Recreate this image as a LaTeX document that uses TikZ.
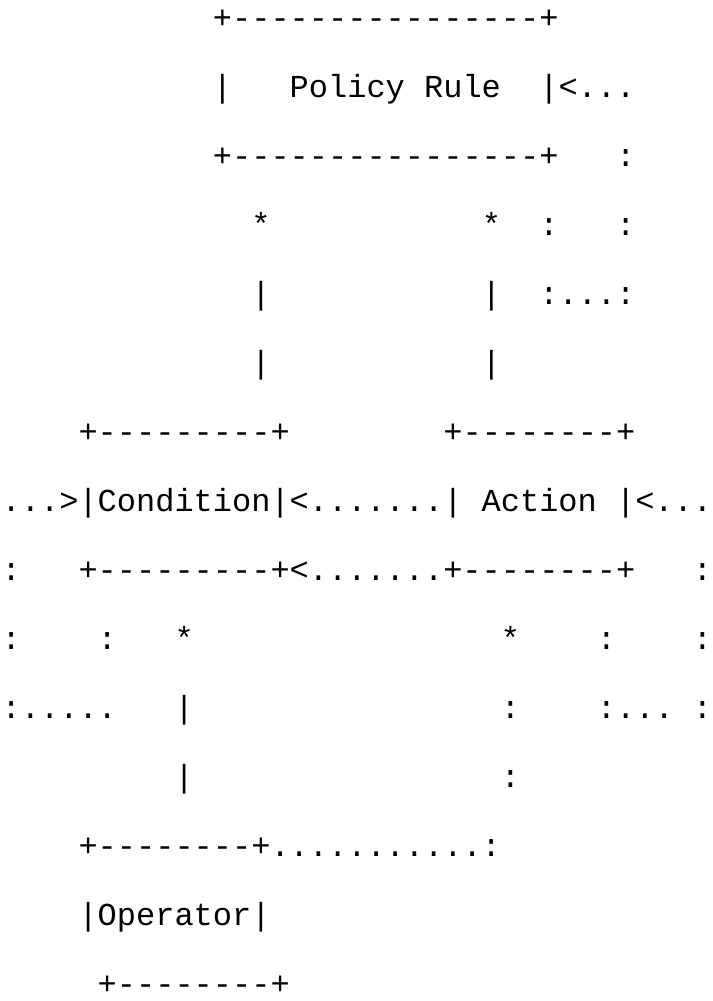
\documentclass[tikz,border=0pt]{standalone}
\usepackage{fontspec}
\setmonofont{Liberation Mono}
\usetikzlibrary{positioning}

\begin{document}
\begin{tikzpicture}[x=1pt,y=1pt,
  asciirow/.style={anchor=base west,inner sep=0pt,font=\ttfamily\frenchspacing\fontsize{32}{32}\selectfont}]
\useasboundingbox (0,-1001) rectangle (712,0);
% one node per text row of the sketch
\node[asciirow] (r1)  at (1.5,-28)  {~~~~~~~~~~~+----------------+};
\node[asciirow] (r2)  at (1.5,-97)  {~~~~~~~~~~~|~~~Policy~Rule~~|<...};
\node[asciirow] (r3)  at (1.5,-166) {~~~~~~~~~~~+----------------+~~~:};
\node[asciirow] (r4)  at (1.5,-235) {~~~~~~~~~~~~~*~~~~~~~~~~~*~~:~~~:};
\node[asciirow] (r5)  at (1.5,-304) {~~~~~~~~~~~~~|~~~~~~~~~~~|~~:...:};
\node[asciirow] (r6)  at (1.5,-373) {~~~~~~~~~~~~~|~~~~~~~~~~~|};
\node[asciirow] (r7)  at (1.5,-442) {~~~~+---------+~~~~~~~~+--------+};
\node[asciirow] (r8)  at (1.5,-511) {...>|Condition|<.......|~Action~|<...};
\node[asciirow] (r9)  at (1.5,-580) {:~~~+---------+<.......+--------+~~~:};
\node[asciirow] (r10) at (1.5,-649) {:~~~~:~~~*~~~~~~~~~~~~~~~~*~~~~:~~~~:};
\node[asciirow] (r11) at (1.5,-718) {:.....~~~|~~~~~~~~~~~~~~~~:~~~~:...~:};
\node[asciirow] (r12) at (1.5,-787) {~~~~~~~~~|~~~~~~~~~~~~~~~~:};
\node[asciirow] (r13) at (1.5,-856) {~~~~+--------+...........:};
\node[asciirow] (r14) at (1.5,-925) {~~~~|Operator|};
\node[asciirow] (r15) at (1.5,-994) {~~~~~+--------+};
\end{tikzpicture}
\end{document}
